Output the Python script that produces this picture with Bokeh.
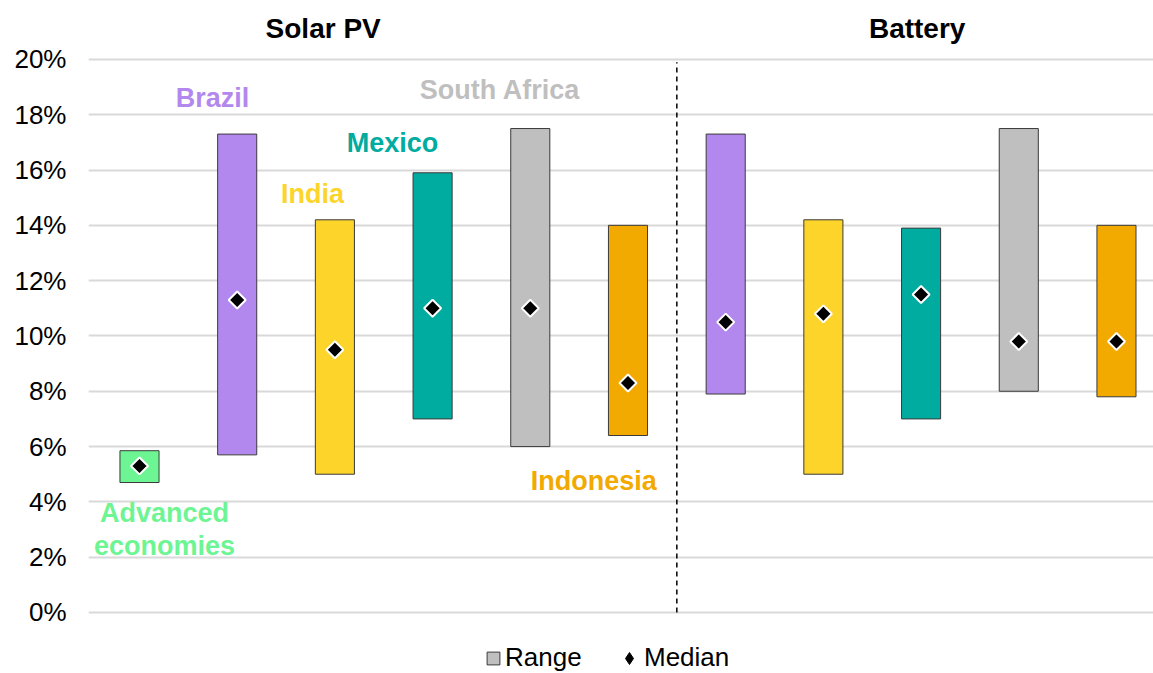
import math
from bokeh.plotting import figure
from bokeh.models import (ColumnDataSource, FixedTicker, PrintfTickFormatter,
                          Label, Legend, LegendItem, Range1d)
from bokeh.embed import file_html
from bokeh.resources import INLINE

# ---- data ----
categories = ["Advanced economies", "Brazil", "India", "Mexico", "South Africa", "Indonesia",
              "Brazil", "India", "Mexico", "South Africa", "Indonesia"]
technology = ["Solar PV"] * 6 + ["Battery"] * 5
range_low = [4.7, 5.7, 5.0, 7.0, 6.0, 6.4, 7.9, 5.0, 7.0, 8.0, 7.8]
range_high = [5.85, 17.3, 14.2, 15.9, 17.5, 14.0, 17.3, 14.2, 13.9, 17.5, 14.0]
median = [5.3, 11.3, 9.5, 11.0, 11.0, 8.3, 10.5, 10.8, 11.5, 9.8, 9.8]
y_ticks = [0, 2, 4, 6, 8, 10, 12, 14, 16, 18, 20]

country_colors = {
    "Advanced economies": "#6EF593",
    "Brazil": "#B388EE",
    "India": "#FDD42A",
    "Mexico": "#00AB9F",
    "South Africa": "#BFBFBF",
    "Indonesia": "#F2A900",
}

FONT = "Liberation Sans"

xs = list(range(len(categories)))
src = ColumnDataSource(dict(
    x=xs, low=range_low, high=range_high, med=median,
    color=[country_colors[c] for c in categories],
))

p = figure(width=1153, height=673, output_backend="svg", toolbar_location=None,
           x_range=Range1d(-0.522, 10.379), y_range=Range1d(-2.206, 22.13),
           min_border_left=88, min_border_right=0, min_border_top=0, min_border_bottom=0)
p.outline_line_color = None
p.background_fill_color = "white"
p.border_fill_color = "white"

bars = p.vbar(x="x", bottom="low", top="high", width=0.4, source=src,
              fill_color="color", line_color="#3a3a3a", line_width=1)
# diamond renderer (used for the legend swatch), covered by the rotated squares
meds_legend = p.scatter(x="x", y="med", source=src, marker="diamond", size=12,
                        fill_color="black", line_color="black", line_width=1)
meds = p.scatter(x="x", y="med", source=src, marker="square", angle=math.pi / 4,
                 size=12, fill_color="black", line_color="white", line_width=2)

# axes
p.xaxis.visible = False
p.xgrid.visible = False
p.yaxis.ticker = FixedTicker(ticks=y_ticks)
p.yaxis.formatter = PrintfTickFormatter(format="%d%%")
p.yaxis.axis_line_color = None
p.yaxis.major_tick_line_color = None
p.yaxis.major_tick_out = 0
p.yaxis.major_tick_in = 0
p.yaxis.minor_tick_line_color = None
p.yaxis.major_label_standoff = 22
p.yaxis.major_label_text_font = FONT
p.yaxis.major_label_text_font_size = "26px"
p.yaxis.major_label_text_color = "black"
p.ygrid.ticker = FixedTicker(ticks=y_ticks)
p.ygrid.grid_line_color = "#D9D9D9"
p.ygrid.grid_line_width = 2

# divider between the two technology groups
n_solar = technology.count("Solar PV")
div_x = (xs[n_solar - 1] + xs[n_solar]) / 2
p.segment(x0=[div_x], y0=[y_ticks[0]], x1=[div_x], y1=[y_ticks[-1] - 0.1],
          line_color="black", line_width=1.5, line_dash="5 4")

# section titles
for txt, x in [("Solar PV", 1.88), ("Battery", 7.96)]:
    p.add_layout(Label(x=x, y=21.12, text=txt, text_font=FONT, text_font_size="28px",
                       text_font_style="bold", text_color="black",
                       text_align="center", text_baseline="middle"))

# country labels
labels = [
    ("Brazil", 0.747, 18.59),
    ("India", 1.77, 15.12),
    ("Mexico", 2.59, 16.96),
    ("South Africa", 3.69, 18.91),
    ("Indonesia", 4.65, 4.77),
    ("Advanced", 0.256, 3.58),
    ("economies", 0.256, 2.42),
]
for txt, x, y in labels:
    key = "Advanced economies" if txt in ("Advanced", "economies") else txt
    p.add_layout(Label(x=x, y=y, text=txt, text_font=FONT, text_font_size="27px",
                       text_font_style="bold", text_color=country_colors[key],
                       text_align="center", text_baseline="middle"))

# legends (grey range swatch uses the South Africa bar's style)
grey_idx = categories.index("South Africa")
legend_range = Legend(items=[LegendItem(label="Range", renderers=[bars], index=grey_idx)],
                      orientation="horizontal", location=(397, 0),
                      label_text_font=FONT, label_text_font_size="26px",
                      label_text_color="black", border_line_color=None,
                      background_fill_alpha=0, glyph_width=16, glyph_height=16,
                      padding=4, margin=0, label_standoff=4)
legend_med = Legend(items=[LegendItem(label="Median", renderers=[meds_legend], index=0)],
                    orientation="horizontal", location=(526, 0),
                    label_text_font=FONT, label_text_font_size="26px",
                    label_text_color="black", border_line_color=None,
                    background_fill_alpha=0, glyph_width=30, glyph_height=30,
                    padding=4, margin=0, label_standoff=0)
p.add_layout(legend_range, "center")
p.add_layout(legend_med, "center")

open("out.html", "w").write(file_html(p, INLINE))
